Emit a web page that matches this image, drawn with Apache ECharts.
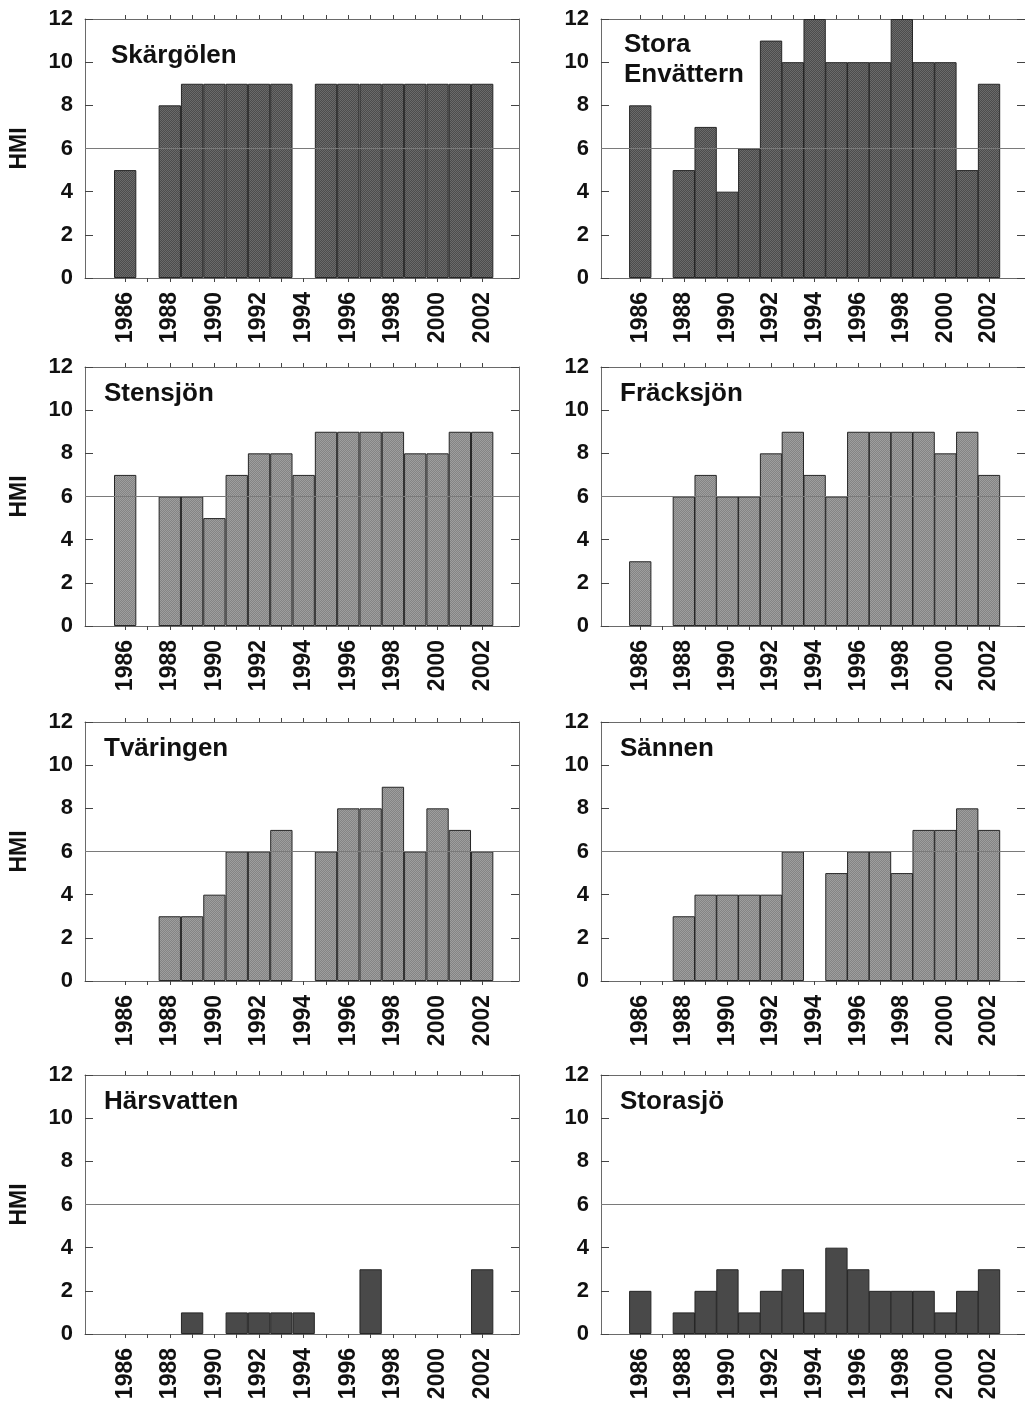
<!DOCTYPE html>
<html>
<head>
<meta charset="utf-8">
<title>HMI 1986–2002</title>
<script src="https://cdn.jsdelivr.net/npm/echarts@6/dist/echarts.min.js"></script>
<style>
  html, body { margin: 0; padding: 0; background: #ffffff; }
  #chart { width: 1025px; height: 1408px; }
</style>
</head>
<body>
<div id="chart"></div>
<script>
// Sampling years and the labelled (even) years on the x axis
const years = [1986, 1987, 1988, 1989, 1990, 1991, 1992, 1993, 1994, 1995, 1996, 1997, 1998, 1999, 2000, 2001, 2002];
const yearLabels = [1986, 1988, 1990, 1992, 1994, 1996, 1998, 2000, 2002];
const hmiTicks = [0, 2, 4, 6, 8, 10, 12];
const hmiLimit = 6;

// HMI per lake and year (null = not sampled)
const skargolen      = [5, null, 8, 9, 9, 9, 9, 9, null, 9, 9, 9, 9, 9, 9, 9, 9];
const storaEnvattern = [8, null, 5, 7, 4, 6, 11, 10, 12, 10, 10, 10, 12, 10, 10, 5, 9];
const stensjon       = [7, null, 6, 6, 5, 7, 8, 8, 7, 9, 9, 9, 9, 8, 8, 9, 9];
const fracksjon      = [3, null, 6, 7, 6, 6, 8, 9, 7, 6, 9, 9, 9, 9, 8, 9, 7];
const tvaringen      = [null, null, 3, 3, 4, 6, 6, 7, null, 6, 8, 8, 9, 6, 8, 7, 6];
const sannen         = [null, null, 3, 4, 4, 4, 4, 6, null, 5, 6, 6, 5, 7, 7, 8, 7];
const harsvatten     = [null, null, null, 1, null, 1, 1, 1, 1, null, null, 3, null, null, null, null, 3];
const storasjo       = [2, null, 1, 2, 3, 1, 2, 3, 1, 4, 3, 2, 2, 2, 1, 2, 3];

const lakeNames = ['Skärgölen', 'Stora\nEnvättern', 'Stensjön', 'Fräcksjön', 'Tväringen', 'Sännen', 'Härsvatten', 'Storasjö'];
const lakeValues = [skargolen, storaEnvattern, stensjon, fracksjon, tvaringen, sannen, harsvatten, storasjo];

// ---- layout ----
const colLeft = [85, 601];
const rowTop = [19, 367, 722, 1075];
const plotW = 434;
const plotH = 259;
const xMin = 1984.2;
const xMax = 2003.65;
const barW = plotW / (xMax - xMin);
const font = '"Liberation Sans", Arial, Helvetica, sans-serif';

// small stippled fill used for the bars
function stipple(base, light) {
  const c = document.createElement('canvas');
  c.width = 2; c.height = 2;
  const g = c.getContext('2d');
  g.fillStyle = base; g.fillRect(0, 0, 2, 2);
  g.fillStyle = light; g.fillRect(0, 0, 1, 1); g.fillRect(1, 1, 1, 1);
  return { image: c, repeat: 'repeat' };
}
const fillDark = stipple('#4c4c4c', '#6a6a6a');
const fillLight = stipple('#848484', '#9e9e9e');
const fillSolid = '#494949';
const rowFill = [fillDark, fillLight, fillLight, fillSolid];

const grids = [], xAxes = [], yAxes = [], series = [], titles = [];

lakeValues.forEach((vals, i) => {
  const col = i % 2, row = Math.floor(i / 2);
  const left = colLeft[col], top = rowTop[row];
  grids.push({ left: left, top: top, width: plotW, height: plotH, containLabel: false });

  const tickStyle = { color: '#444', width: 1 };
  const frame = { show: true, onZero: false, lineStyle: { color: '#6a6a6a', width: 1 } };

  // bottom axis: even-year labels, a tick every year
  xAxes.push({
    gridIndex: i, type: 'value', position: 'bottom', min: xMin, max: xMax,
    axisLine: frame, splitLine: { show: false },
    axisTick: { show: true, inside: false, length: 4, lineStyle: tickStyle, customValues: years },
    axisLabel: {
      show: true, rotate: 90, margin: 14, customValues: yearLabels,
      formatter: (v) => String(Math.round(v)),
      fontFamily: font, fontSize: 23, fontWeight: 'bold', color: '#111'
    }
  });
  // top axis: ticks only
  xAxes.push({
    gridIndex: i, type: 'value', position: 'top', min: xMin, max: xMax,
    axisLine: frame, splitLine: { show: false },
    axisTick: { show: true, inside: false, length: 4, lineStyle: tickStyle, customValues: years },
    axisLabel: { show: false }
  });
  // left axis with labels
  yAxes.push({
    gridIndex: i, type: 'value', position: 'left', min: 0, max: 12, interval: 2,
    name: col === 0 ? 'HMI' : '', nameLocation: 'middle', nameRotate: 90, nameGap: 54,
    nameTextStyle: { fontFamily: font, fontSize: 23, fontWeight: 'bold', color: '#111' },
    axisLine: frame, splitLine: { show: false },
    axisTick: { show: true, inside: true, length: 8, lineStyle: tickStyle },
    axisLabel: {
      show: true, margin: 12, customValues: hmiTicks,
      fontFamily: font, fontSize: 22, fontWeight: 'bold', color: '#111'
    }
  });
  // right axis: inward ticks only
  yAxes.push({
    gridIndex: i, type: 'value', position: 'right', min: 0, max: 12, interval: 2,
    axisLine: frame, splitLine: { show: false },
    axisTick: { show: true, inside: true, length: 8, lineStyle: tickStyle },
    axisLabel: { show: false }
  });

  const data = [];
  years.forEach((y, k) => { if (vals[k] !== null) data.push([y, vals[k]]); });

  series.push({
    type: 'bar', name: lakeNames[i].replace('\n', ' '),
    xAxisIndex: 2 * i, yAxisIndex: 2 * i,
    data: data, barWidth: barW, barGap: '-100%',
    itemStyle: { color: rowFill[row], borderColor: '#262626', borderWidth: 1 },
    silent: true, animation: false,
    markLine: {
      silent: true, symbol: ['none', 'none'], animation: false,
      label: { show: false },
      lineStyle: { color: '#7a7a7a', width: 1, type: 'solid' },
      data: [{ yAxis: hmiLimit }]
    }
  });

  let tLeft = left + 19, tTop = top + 12;
  if (i === 0) { tLeft = left + 26; tTop = top + 22; }
  if (i === 1) { tLeft = left + 23; tTop = top + 11; }
  titles.push({
    text: lakeNames[i], left: tLeft, top: tTop, padding: 0,
    textStyle: { fontFamily: font, fontSize: 26, fontWeight: 'bold', color: '#111', lineHeight: 30 }
  });
});

const chart = echarts.init(document.getElementById('chart'), null, { renderer: 'canvas' });
chart.setOption({
  animation: false,
  backgroundColor: '#ffffff',
  title: titles,
  grid: grids,
  xAxis: xAxes,
  yAxis: yAxes,
  series: series
});
</script>
</body>
</html>
